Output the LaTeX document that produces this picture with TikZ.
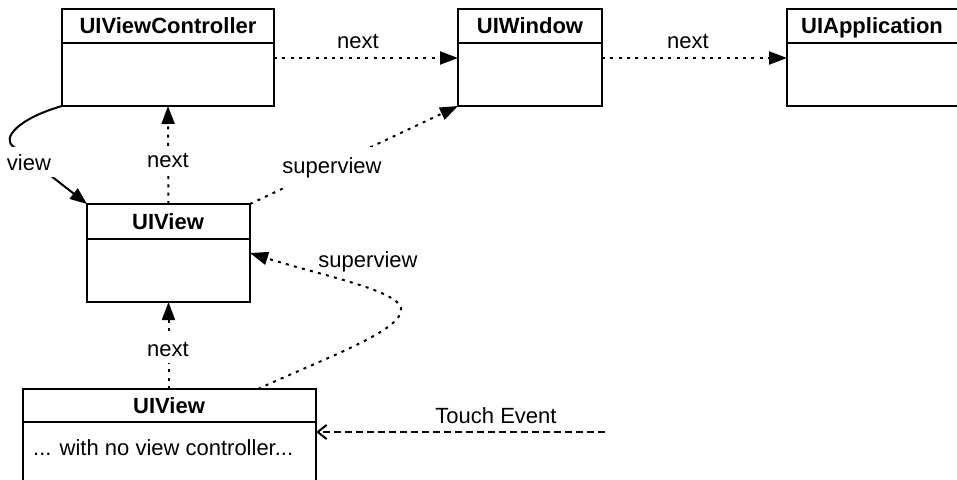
\documentclass[tikz,border=0pt]{standalone}
\usepackage{fontspec}
\setmainfont{Liberation Sans}
\usetikzlibrary{arrows.meta}
\begin{document}
\begin{tikzpicture}[x=1pt,y=-1pt,
  every node/.style={font=\fontsize{22pt}{26pt}\selectfont},
  box/.style={draw, line width=2pt, inner sep=0pt, outer sep=0pt, anchor=north west},
  ttl/.style={font=\fontsize{22pt}{26pt}\selectfont\bfseries, anchor=base, inner sep=0pt},
  lbl/.style={anchor=base, inner sep=0pt},
  onlbl/.style={anchor=base, fill=white, inner xsep=6pt, inner ysep=7pt},
  sep/.style={line width=2pt},
  dotconn/.style={line width=2pt, dash pattern=on 3pt off 5.3pt, -{Triangle[length=18pt,width=13pt]}},
  solconn/.style={line width=2pt, -{Triangle[length=17pt,width=13pt]}},
  dashconn/.style={line width=2pt, dash pattern=on 7pt off 4pt, -{Straight Barb[length=9pt,width=14pt]}},
]
\path[use as bounding box] (0,0) rectangle (957,479);
\clip (0,0) rectangle (957,479);

% boxes
\node[box, minimum width=212pt, minimum height=97pt] (vc) at (62,9) {};
\node[box, minimum width=144pt, minimum height=97pt] (win) at (458,9) {};
\node[box, minimum width=180pt, minimum height=97pt] (app) at (787,9) {};
\node[box, minimum width=163pt, minimum height=98pt] (mid) at (87,204) {};
\node[box, minimum width=293pt, minimum height=110pt] (bot) at (23,389) {};

\draw[sep] ([yshift=-34pt]vc.north west) -- ([yshift=-34pt]vc.north east);
\draw[sep] ([yshift=-34pt]win.north west) -- ([yshift=-34pt]win.north east);
\draw[sep] ([yshift=-34pt]app.north west) -- ([yshift=-34pt]app.north east);
\draw[sep] ([yshift=-35pt]mid.north west) -- ([yshift=-35pt]mid.north east);
\draw[sep] ([yshift=-33pt]bot.north west) -- ([yshift=-33pt]bot.north east);

% titles
\node[ttl] (vct) at (168,33) {UIViewController};
\node[ttl] (wint) at (530,33) {UIWindow};
\node[ttl] (appt) at (872,33) {UIApplication};
\node[ttl] (midt) at (168,229) {UIView};
\node[ttl] (bott) at (169,413) {UIView};
\node[lbl, anchor=base west] (botbody) at (33,455) {... with no view controller...};

% connectors
\draw[dotconn] (vc.east |- 0,58) -- (win.west |- 0,58);
\node[lbl] (n1) at (358,48) {next};
\draw[dotconn] (win.east |- 0,58) -- (app.west |- 0,58);
\node[lbl] (n2) at (688,48) {next};

\draw[dotconn] (mid.north) -- (vc.south);
\node[onlbl] (n3) at (168,167) {next};

\draw[dotconn] (bot.north -| mid.north) -- (mid.south);
\node[onlbl] (n4) at (168,356) {next};

\draw[dotconn] (mid.north east) -- (win.south west);
\node[onlbl, inner ysep=10pt] (s1) at (332,173) {superview};

\draw[dotconn] ([xshift=235pt]bot.north west) .. controls (325,358) and (405,330) .. (401,308)
  .. controls (397,290) and (320,275) .. (mid.east);
\node[lbl] (s2) at (368,267) {superview};

\draw[solconn] (vc.south west) .. controls (20,118) and (0,138) .. (14,147) -- (mid.north west);
\node[onlbl] (vl) at (29,170) {view};

\coordinate (te) at (605,432);
\draw[dashconn] (te) -- (te -| bot.east);
\node[lbl] (tel) at (496,423) {Touch Event};
\end{tikzpicture}
\end{document}
